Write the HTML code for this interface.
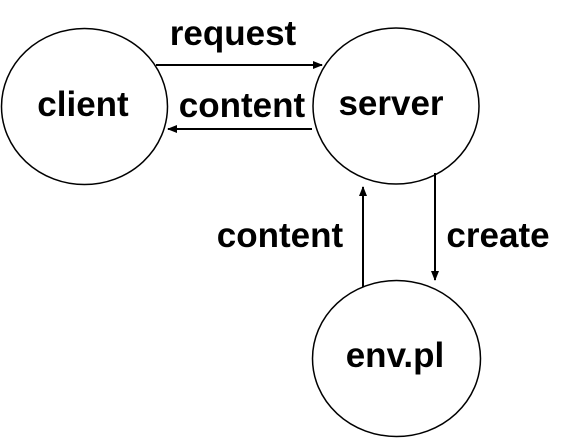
<!DOCTYPE html>
<html><head><style>body{margin:0;background:#fff}svg{display:block}</style></head>
<body>
<svg width="574" height="438" viewBox="0 0 574 438" xmlns="http://www.w3.org/2000/svg">
<defs><marker id="a" markerWidth="10" markerHeight="10" refX="9" refY="4" orient="auto" markerUnits="userSpaceOnUse"><path d="M0,0 L10,4 L0,8 Z" fill="#000"/></marker></defs>
<g fill="none" stroke="#000" stroke-width="1.5">
<ellipse cx="84.5" cy="106.5" rx="83" ry="78"/>
<ellipse cx="396" cy="106" rx="83" ry="78"/>
<ellipse cx="396.5" cy="358.5" rx="84" ry="78"/>
<line x1="156" y1="65" x2="322" y2="65" stroke-width="2" marker-end="url(#a)"/>
<line x1="312" y1="129" x2="168" y2="129" stroke-width="2" marker-end="url(#a)"/>
<line x1="363" y1="287" x2="363" y2="187" stroke-width="2" marker-end="url(#a)"/>
<line x1="435" y1="173" x2="435" y2="280" stroke-width="2" marker-end="url(#a)"/>
</g>
<g font-family="Liberation Sans, Arial, sans-serif" font-weight="bold" font-size="35" fill="#000">
<text x="83" y="116" text-anchor="middle">client</text>
<text x="391" y="115" text-anchor="middle">server</text>
<text x="233" y="45" text-anchor="middle">request</text>
<text x="242" y="117" text-anchor="middle">content</text>
<text x="280" y="247" text-anchor="middle">content</text>
<text x="498" y="247" text-anchor="middle">create</text>
<text x="395" y="367" text-anchor="middle">env.pl</text>
</g>
</svg>
</body></html>
